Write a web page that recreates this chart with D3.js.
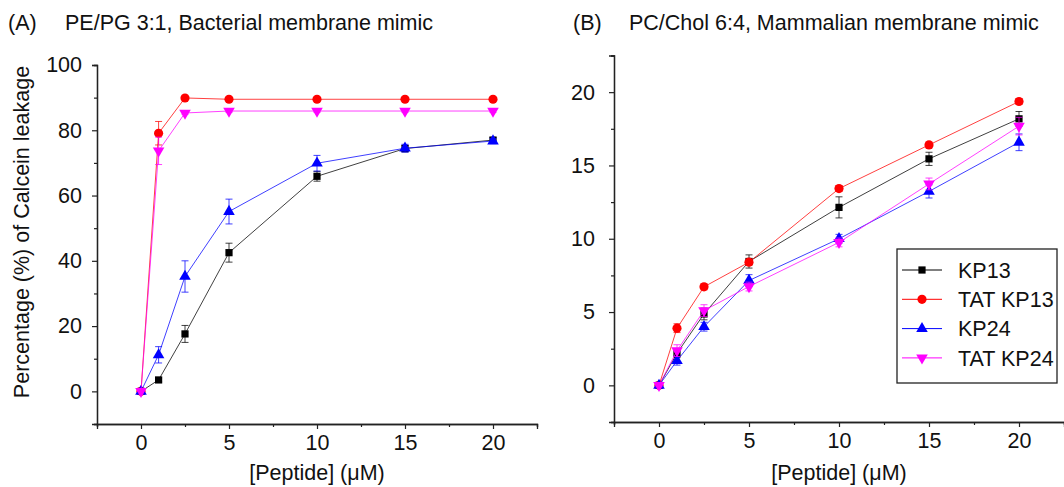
<!DOCTYPE html>
<html>
<head>
<meta charset="utf-8">
<script src="https://cdn.jsdelivr.net/npm/d3@7"></script>
<style>
  body { margin: 0; background: #fff; }
  svg { display: block; font-family: "Liberation Sans", Arial, sans-serif; }
</style>
</head>
<body>
<script>
// peptide concentrations (uM)
const conc = [0, 1, 2.5, 5, 10, 15, 20];
const seriesNames = ["KP13", "TAT KP13", "KP24", "TAT KP24"];

// (A) PE/PG 3:1 leakage (%)
const bactKP13 = [0, 3.5, 17.6, 42.5, 65.9, 74.4, 77.0];
const bactKP13Err = [0.5, 0.6, 2.6, 2.9, 1.5, 1.0, 0.8];
const bactTATKP13 = [0, 79.1, 89.9, 89.5, 89.5, 89.5, 89.5];
const bactTATKP13Err = [0, 3.6, 0.4, 0.4, 0.4, 0.4, 0.4];
const bactKP24 = [0, 11.2, 35.2, 55.1, 69.9, 74.5, 76.7];
const bactKP24Err = [0, 2.5, 4.8, 3.8, 2.4, 1.2, 0.8];
const bactTATKP24 = [0, 73.7, 85.3, 85.9, 85.9, 85.9, 85.9];
const bactTATKP24Err = [0, 4.2, 0.4, 0.4, 0.4, 0.4, 0.4];

// (B) PC/Chol 6:4 leakage (%)
const mamKP13 = [0, 2.19, 4.87, 8.45, 12.14, 15.45, 18.18];
const mamKP13Err = [0.1, 0.3, 0.4, 0.45, 0.72, 0.45, 0.5];
const mamTATKP13 = [0, 3.9, 6.72, 8.4, 13.42, 16.4, 19.36];
const mamTATKP13Err = [0.1, 0.3, 0.2, 0.2, 0.2, 0.2, 0.2];
const mamKP24 = [0, 1.68, 4.0, 7.15, 10.0, 13.23, 16.58];
const mamKP24Err = [0.1, 0.3, 0.3, 0.4, 0.3, 0.45, 0.57];
const mamTATKP24 = [0, 2.37, 5.1, 6.74, 9.75, 13.74, 17.68];
const mamTATKP24Err = [0.1, 0.4, 0.4, 0.3, 0.3, 0.4, 0.6];

const yTicksA = [0, 20, 40, 60, 80, 100];
const yTicksB = [0, 5, 10, 15, 20];
const xTicks = [0, 5, 10, 15, 20];

const colors = ["#000000", "#ff0000", "#0000ff", "#ff00ff"];
const FONT = "21.5px";

const width = 1064, height = 487;
const svg = d3.select("body").append("svg")
  .attr("width", width)
  .attr("height", height);

const symbols = [
  d3.symbol().type(d3.symbolSquare).size(52),
  d3.symbol().type(d3.symbolCircle).size(66),
  d3.symbol().type(d3.symbolTriangle).size(58),
  d3.symbol().type(d3.symbolTriangle).size(58)
];
const symRotate = [0, 0, 0, 180];

function drawPanel(opts) {
  const x = d3.scaleLinear().domain([-2.5, 22.5]).range([opts.left, opts.right]);
  const y = d3.scaleLinear().domain(opts.yDomain).range([opts.bottom, opts.top]);
  const g = svg.append("g");

  // axes
  const xAxis = d3.axisBottom(x).tickValues(xTicks).tickSize(5).tickPadding(6);
  const xMinor = d3.axisBottom(x).tickValues(d3.range(-2.5, 23, 5)).tickSize(3).tickFormat("");
  const yAxis = d3.axisLeft(y).tickValues(opts.yTicks).tickSize(5).tickPadding(opts.yPad);
  const yMinor = d3.axisLeft(y).tickValues(opts.yMinor).tickSize(3).tickFormat("");

  [xAxis, xMinor].forEach(a => {
    g.append("g").attr("transform", "translate(0," + opts.bottom + ")").call(a);
  });
  [yAxis, yMinor].forEach(a => {
    g.append("g").attr("transform", "translate(" + opts.left + ",0)").call(a);
  });
  g.selectAll(".domain").attr("stroke", "#222").attr("stroke-width", 1.3);
  g.selectAll(".tick line").attr("stroke", "#222").attr("stroke-width", 1.2);
  g.selectAll(".tick text").attr("font-size", FONT).attr("fill", "#111")
    .attr("font-family", "Liberation Sans, Arial, sans-serif");

  // x label
  g.append("text")
    .attr("x", (opts.left + opts.right) / 2)
    .attr("y", 480)
    .attr("text-anchor", "middle")
    .attr("font-size", FONT)
    .attr("fill", "#111")
    .text("[Peptide] (\u03bcM)");

  // series
  const line = d3.line().x(d => x(d.c)).y(d => y(d.v));
  opts.series.forEach((s, i) => {
    const pts = conc.map((c, j) => ({ c: c, v: s.values[j], e: s.err[j] }));
    const sg = g.append("g");
    sg.append("path").datum(pts)
      .attr("d", line)
      .attr("fill", "none")
      .attr("stroke", colors[i])
      .attr("stroke-width", 1)
      .attr("stroke-opacity", 0.75);
    // error bars
    const eb = sg.selectAll(".err").data(pts.filter(d => d.e > 0)).enter().append("g")
      .attr("stroke", colors[i]).attr("stroke-width", 1).attr("stroke-opacity", 0.75);
    eb.append("line")
      .attr("x1", d => x(d.c)).attr("x2", d => x(d.c))
      .attr("y1", d => y(d.v - d.e)).attr("y2", d => y(d.v + d.e));
    eb.append("line")
      .attr("x1", d => x(d.c) - 3.5).attr("x2", d => x(d.c) + 3.5)
      .attr("y1", d => y(d.v + d.e)).attr("y2", d => y(d.v + d.e));
    eb.append("line")
      .attr("x1", d => x(d.c) - 3.5).attr("x2", d => x(d.c) + 3.5)
      .attr("y1", d => y(d.v - d.e)).attr("y2", d => y(d.v - d.e));
    sg.selectAll(".pt").data(pts).enter().append("path")
      .attr("d", symbols[i])
      .attr("transform", d => "translate(" + x(d.c) + "," + y(d.v) + ") rotate(" + symRotate[i] + ")")
      .attr("fill", colors[i]);
  });
  return { x: x, y: y, g: g };
}

// panel A
const pA = drawPanel({
  left: 97, right: 537, top: 65, bottom: 424,
  yDomain: [-10, 100], yTicks: yTicksA, yMinor: d3.range(-10, 100, 20), yPad: 10,
  series: [
    { values: bactKP13, err: bactKP13Err },
    { values: bactTATKP13, err: bactTATKP13Err },
    { values: bactKP24, err: bactKP24Err },
    { values: bactTATKP24, err: bactTATKP24Err }
  ]
});

// panel B
const pB = drawPanel({
  left: 614, right: 1064, top: 55.5, bottom: 422,
  yDomain: [-2.5, 22.5], yTicks: yTicksB, yMinor: d3.range(-2.5, 23, 5), yPad: 14,
  series: [
    { values: mamKP13, err: mamKP13Err },
    { values: mamTATKP13, err: mamTATKP13Err },
    { values: mamKP24, err: mamKP24Err },
    { values: mamTATKP24, err: mamTATKP24Err }
  ]
});

// y label (panel A)
svg.append("text")
  .attr("transform", "translate(29,232) rotate(-90)")
  .attr("text-anchor", "middle")
  .attr("font-size", FONT)
  .attr("fill", "#111")
  .text("Percentage (%) of Calcein leakage");

// titles
const titles = [
  { tag: "(A)", x: 8, text: "PE/PG 3:1, Bacterial membrane mimic", tx: 65 },
  { tag: "(B)", x: 573, text: "PC/Chol 6:4, Mammalian membrane mimic", tx: 629 }
];
titles.forEach(t => {
  svg.append("text").attr("x", t.x).attr("y", 30).attr("font-size", FONT).attr("fill", "#111").text(t.tag);
  svg.append("text").attr("x", t.tx).attr("y", 30).attr("font-size", FONT).attr("fill", "#111").text(t.text);
});

// legend (panel B)
const legend = svg.append("g");
legend.append("rect")
  .attr("x", 897).attr("y", 249).attr("width", 160).attr("height", 134)
  .attr("fill", "#fff").attr("stroke", "#222").attr("stroke-width", 1.3);
seriesNames.forEach((name, i) => {
  const ly = 270 + i * 29.3;
  legend.append("line")
    .attr("x1", 902).attr("x2", 942).attr("y1", ly).attr("y2", ly)
    .attr("stroke", colors[i]).attr("stroke-width", 1);
  legend.append("path")
    .attr("d", symbols[i])
    .attr("transform", "translate(922," + ly + ") rotate(" + symRotate[i] + ")")
    .attr("fill", colors[i]);
  legend.append("text")
    .attr("x", 958).attr("y", ly)
    .attr("dy", "0.36em")
    .attr("font-size", FONT)
    .attr("fill", "#111")
    .text(name);
});
</script>
</body>
</html>
